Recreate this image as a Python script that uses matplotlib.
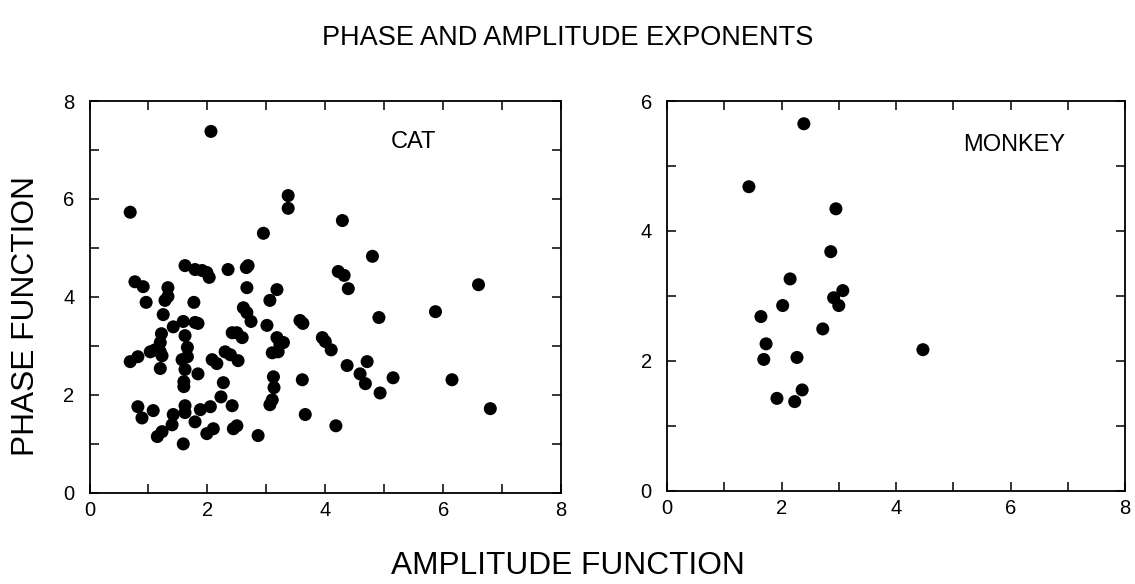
import matplotlib.pyplot as plt
import numpy as np
from matplotlib.ticker import MultipleLocator

plt.rcParams['font.family'] = ['Liberation Sans', 'DejaVu Sans']

# CAT: amplitude exponent vs phase exponent
cat_amp = np.array([
    2.06, 0.69, 3.37, 3.37, 2.95, 4.29, 4.80, 1.62, 1.79, 1.91, 1.99, 2.03,
    2.35, 2.66, 2.69, 4.22, 4.32, 4.39, 6.60, 0.77, 0.91, 1.33, 2.67, 3.18,
    3.06, 0.96, 1.28, 1.33, 1.77, 2.61, 2.67, 2.74, 1.25, 1.42, 1.59, 1.79,
    1.84, 3.01, 3.57, 3.62, 5.87, 4.91, 1.22, 1.62, 2.42, 2.50, 2.59, 3.18,
    3.29, 3.95, 4.00, 4.10, 1.20, 1.20, 1.23, 1.03, 1.11, 0.82, 0.69, 1.66,
    1.66, 1.57, 1.62, 3.10, 3.20, 3.23, 2.08, 2.16, 2.30, 2.39, 2.52, 1.20,
    1.60, 1.60, 1.84, 2.27, 2.23, 2.42, 3.12, 3.13, 3.10, 3.06, 3.61, 3.66,
    0.82, 0.89, 1.08, 1.42, 1.40, 1.62, 1.62, 1.79, 1.88, 2.05, 1.15, 1.23,
    1.59, 1.99, 2.10, 2.44, 2.50, 2.86, 4.37, 4.71, 4.59, 4.68, 5.15, 4.93,
    6.15, 6.80, 4.18,
])
cat_phase = np.array([
    7.38, 5.73, 6.07, 5.81, 5.30, 5.56, 4.83, 4.64, 4.56, 4.54, 4.50, 4.40,
    4.56, 4.60, 4.64, 4.52, 4.44, 4.17, 4.25, 4.31, 4.21, 4.19, 4.19, 4.15,
    3.93, 3.89, 3.93, 4.01, 3.89, 3.78, 3.68, 3.50, 3.64, 3.39, 3.50, 3.48,
    3.46, 3.42, 3.52, 3.46, 3.70, 3.58, 3.25, 3.21, 3.27, 3.27, 3.17, 3.17,
    3.07, 3.17, 3.09, 2.92, 3.07, 2.88, 2.80, 2.88, 2.92, 2.78, 2.68, 2.97,
    2.78, 2.72, 2.52, 2.86, 2.88, 3.03, 2.72, 2.64, 2.88, 2.82, 2.70, 2.54,
    2.27, 2.17, 2.43, 2.25, 1.96, 1.78, 2.37, 2.15, 1.90, 1.80, 2.31, 1.60,
    1.76, 1.53, 1.68, 1.60, 1.39, 1.78, 1.64, 1.45, 1.70, 1.76, 1.15, 1.25,
    1.00, 1.21, 1.31, 1.31, 1.37, 1.17, 2.60, 2.68, 2.43, 2.23, 2.35, 2.04,
    2.31, 1.72, 1.37,
])

# MONKEY
monkey_amp = np.array([2.39, 1.43, 2.95, 2.86, 2.15, 3.07, 2.91, 3.00, 2.02,
                       1.64, 2.72, 1.73, 1.69, 2.27, 4.47, 2.36, 1.92, 2.23])
monkey_phase = np.array([5.65, 4.68, 4.34, 3.68, 3.26, 3.08, 2.97, 2.85, 2.85,
                         2.68, 2.49, 2.26, 2.02, 2.05, 2.17, 1.55, 1.42, 1.37])

fig = plt.figure(figsize=(11.35, 5.84), dpi=100)
ax1 = fig.add_axes([0.0789, 0.156, 0.4154, 0.671])
ax2 = fig.add_axes([0.5877, 0.160, 0.4035, 0.667])


def style(ax, ymax):
    ax.set_xlim(0, 8)
    ax.set_ylim(0, ymax)
    ax.xaxis.set_major_locator(MultipleLocator(2))
    ax.xaxis.set_minor_locator(MultipleLocator(1))
    ax.yaxis.set_major_locator(MultipleLocator(2))
    ax.yaxis.set_minor_locator(MultipleLocator(1))
    ax.tick_params(which='both', direction='in', top=True, right=True,
                   length=6.5, width=1.1, labelsize=14.5)
    ax.tick_params(axis='x', pad=6)
    ax.tick_params(axis='y', pad=11)
    for sp in ax.spines.values():
        sp.set_linewidth(1.3)


ax1.scatter(cat_amp, cat_phase, s=88, color='black', edgecolors='none')
style(ax1, 8)
ax1.text(5.5, 7.16, "CAT", fontsize=17, ha='center', va='center')

ax2.scatter(monkey_amp, monkey_phase, s=88, color='black', edgecolors='none')
style(ax2, 6)
ax2.text(6.07, 5.32, "MONKEY", fontsize=17, ha='center', va='center')

fig.text(0.5, 0.935, "PHASE AND AMPLITUDE EXPONENTS", fontsize=19.5,
         ha='center', va='center')
fig.text(0.5, 0.03, "AMPLITUDE FUNCTION", fontsize=22.8, ha='center', va='center')
fig.text(0.023, 0.459, "PHASE FUNCTION", fontsize=22.8, ha='center', va='center',
         rotation=90)

fig.savefig("out.png", dpi=100)
